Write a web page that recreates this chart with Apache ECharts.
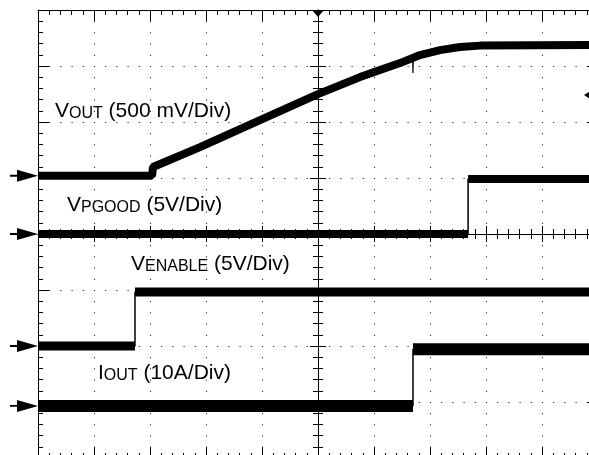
<!DOCTYPE html>
<html><head><meta charset="utf-8">
<script src="https://cdn.jsdelivr.net/npm/echarts@6/dist/echarts.min.js"></script>
<style>html,body{margin:0;padding:0;background:#fff}#c{width:589px;height:455px}</style>
</head><body><div id="c"></div>
<script>
// Time axis in screen divisions measured from the centre graticule line (10 divisions wide).
const voutTime  = [-5, -2.964, -2.946, -2.107, -1.036, 0, 0.75, 1.464, 1.821, 2.179, 2.536, 2.893, 5];
const voutVolts = [0, 0, 0.078, 0.256, 0.497, 0.729, 0.881, 1.006, 1.078, 1.122, 1.149, 1.162, 1.167];
const voutGlitchTime  = [1.69, 1.696, 1.702];
const voutGlitchVolts = [1.06, 0.917, 1.06];
const pgoodTime  = [-5, 2.68, 2.68, 5];
const pgoodVolts = [0, 0, 4.9, 4.9];
const enableTime  = [-5, -3.268, -3.268, 5];
const enableVolts = [0, 0, 4.82, 4.82];
const ioutTime = [-5, 1.696, 1.696, 5];
const ioutAmps = [0, 0, 10.1, 10.1];
// channel scales (units per division) and ground reference positions (divisions from centre)
const voutScale = 0.5, pgoodScale = 5, enableScale = 5, ioutScale = 10;
const voutRef = 1.04, pgoodRef = 0, enableRef = -2, ioutRef = -3.07;
const triggerTime = 0, triggerLevelDiv = 2.48;
const labelVout = ['V', 'OUT', ' (500 mV/Div)'];
const labelPgood = ['V', 'PGOOD', ' (5V/Div)'];
const labelEnable = ['V', 'ENABLE', ' (5V/Div)'];
const labelIout = ['I', 'OUT', ' (10A/Div)'];

function toDiv(times, vals, scale, ref) { return times.map((t, i) => [t, ref + vals[i] / scale]); }
function thickParts(pts) {
  const out = [];
  pts.forEach((p, i) => {
    if (i > 0 && p[0] === pts[i - 1][0]) out.push([p[0], '-']);
    out.push(p);
  });
  return out;
}
const vout = toDiv(voutTime, voutVolts, voutScale, voutRef);
const voutGlitch = toDiv(voutGlitchTime, voutGlitchVolts, voutScale, voutRef);
const pgood = toDiv(pgoodTime, pgoodVolts, pgoodScale, pgoodRef);
const enable = toDiv(enableTime, enableVolts, enableScale, enableRef);
const iout = toDiv(ioutTime, ioutAmps, ioutScale, ioutRef);

const K = '#000';
function xAx(extra) {
  return Object.assign({ type: 'value', min: -5, max: 5, interval: 1, axisLabel: { show: false },
    splitLine: { show: false }, minorSplitLine: { show: false } }, extra);
}
function yAx(extra) {
  return Object.assign({ type: 'value', min: -4, max: 4, interval: 1, axisLabel: { show: false },
    splitLine: { show: false }, minorSplitLine: { show: false } }, extra);
}
const dotted = { show: true, lineStyle: { color: K, width: 1, type: [1, 10.2] } };
const frameLine = { show: true, onZero: false, lineStyle: { color: K, width: 1 } };
const frameTick = { show: true, inside: true, length: 11, lineStyle: { color: K, width: 1 } };
const minor = { show: true, splitNumber: 5, length: 5, lineStyle: { color: K, width: 1 } };
const centreLine = { show: true, onZero: true, onZeroAxisIndex: 0, lineStyle: { color: K, width: 1 } };
const cTickIn = { show: true, inside: true, length: 8, lineStyle: { color: K, width: 1 } };
const cTickOut = { show: true, inside: false, length: 8, lineStyle: { color: K, width: 1 } };

const arrowPath = 'path://M0,5.1 L7,5.1 L7,0 L28,6 L7,12 L7,6.9 L0,6.9 Z';
const markerStyle = { color: K, opacity: 1 };
function rich(parts, dSub) {
  return {
    text: '{a|' + parts[0] + '}{b|' + parts[1] + '}{a|' + parts[2] + '}',
    rich: {
      a: { fontFamily: 'Liberation Sans', fontSize: 21, lineHeight: 21, verticalAlign: 'bottom', fill: K },
      b: { fontFamily: 'Liberation Sans', fontSize: 16, lineHeight: 17.5 - 2 * dSub, verticalAlign: 'bottom', fill: K }
    },
    verticalAlign: 'bottom', align: 'left'
  };
}

const chart = echarts.init(document.getElementById('c'), null, { renderer: 'canvas' });
chart.setOption({
  animation: false,
  backgroundColor: '#fff',
  grid: { left: 38, top: 10, width: 560, height: 448, outerBoundsMode: 'none', containLabel: false },
  xAxis: [
    xAx({ position: 'bottom', axisLine: frameLine, axisTick: frameTick, minorTick: minor, splitLine: dotted }),
    xAx({ position: 'top', axisLine: frameLine, axisTick: frameTick, minorTick: minor }),
    xAx({ position: 'bottom', axisLine: centreLine, axisTick: cTickIn, minorTick: minor }),
    xAx({ position: 'bottom', axisLine: centreLine, axisTick: cTickOut, minorTick: minor })
  ],
  yAxis: [
    yAx({ position: 'left', axisLine: frameLine, axisTick: frameTick, minorTick: minor, splitLine: dotted }),
    yAx({ position: 'right', axisLine: frameLine, axisTick: frameTick, minorTick: minor }),
    yAx({ position: 'left', axisLine: centreLine, axisTick: cTickIn, minorTick: minor }),
    yAx({ position: 'left', axisLine: centreLine, axisTick: cTickOut, minorTick: minor })
  ],
  series: [
    { type: 'line', data: pgood, showSymbol: false, lineStyle: { color: K, width: 1.5 } },
    { type: 'line', data: enable, showSymbol: false, lineStyle: { color: K, width: 1.5 } },
    { type: 'line', data: iout, showSymbol: false, lineStyle: { color: K, width: 1.5 } },
    { type: 'line', data: thickParts(pgood), showSymbol: false, connectNulls: false, lineStyle: { color: K, width: 8 } },
    { type: 'line', data: thickParts(enable), showSymbol: false, connectNulls: false, lineStyle: { color: K, width: 9 } },
    { type: 'line', data: thickParts(iout), showSymbol: false, connectNulls: false, lineStyle: { color: K, width: 12 } },
    { type: 'line', data: vout, showSymbol: false, lineStyle: { color: K, width: 8, join: 'bevel' } },
    { type: 'line', data: voutGlitch, showSymbol: false, lineStyle: { color: K, width: 1.2 } },
    { type: 'scatter', clip: false, symbol: arrowPath, symbolSize: [28, 12], symbolOffset: [-14, 0],
      itemStyle: markerStyle, silent: true,
      data: [[-5, voutRef], [-5, pgoodRef], [-5, enableRef], [-5, ioutRef]] },
    { type: 'scatter', clip: false, symbol: 'path://M0,0 L12,0 L6,7 Z', symbolSize: [12, 7], symbolOffset: [0, 3.5],
      itemStyle: markerStyle, silent: true, data: [[triggerTime, 4]] },
    { type: 'scatter', clip: false, symbol: 'path://M0,5 L8,0 L8,10 Z', symbolSize: [8, 10], symbolOffset: [-10, 0],
      itemStyle: markerStyle, silent: true, data: [[5, triggerLevelDiv]] }
  ],
  graphic: [
    { type: 'text', x: 55, y: 122, style: rich(labelVout, 0.5) },
    { type: 'text', x: 67, y: 216, style: rich(labelPgood, 2) },
    { type: 'text', x: 131, y: 275, style: rich(labelEnable, 0.5) },
    { type: 'text', x: 98, y: 383.5, style: rich(labelIout, 4) }
  ]
});
</script></body></html>
